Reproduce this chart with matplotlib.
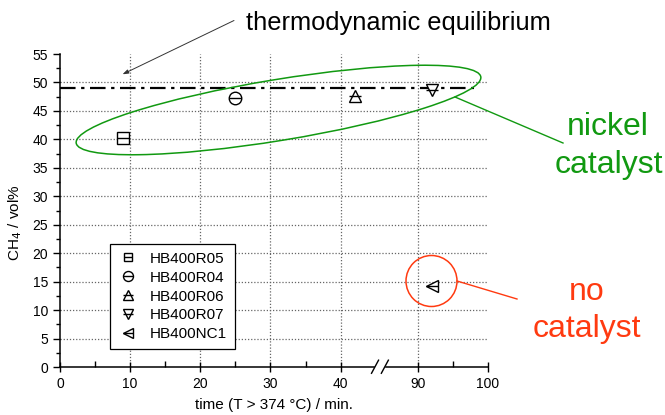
import numpy as np
import matplotlib.pyplot as plt
from matplotlib.patches import Ellipse, Circle, Rectangle
from matplotlib import rcParams

rcParams['font.family'] = 'sans-serif'
rcParams['font.sans-serif'] = ['Liberation Sans', 'DejaVu Sans']

#####################################

runs = ["HB400R05", "HB400R04", "HB400R06", "HB400R07", "HB400NC1"]
times = [9, 25, 42, 92, 92]
ch4 = [40.3, 47.2, 47.6, 48.6, 14.3]
markers = ["s", "o", "^", "v", "<"]

equilibrium = 49.1

xticks = [0, 10, 20, 30, 40, 90, 100]
xminor = [5, 15, 25, 35, 95]
yticks = list(range(0, 56, 5))

cGREEN = "#119911"
cRED = "#ff3a10"

####################################

def pos(x):
    # broken axis: 45..84 removed
    x = np.asarray(x, dtype=float)
    return np.where(x <= 45, x, x - 39)

fig = plt.figure(figsize=(6.65, 4.15), dpi=100)
ax = fig.add_axes([60 / 665, 48 / 415, 428 / 665, 313 / 415])

ax.set_xlim(0, pos(100))
ax.set_ylim(0, 55)

for y in yticks[1:-1]:
    ax.axhline(y, color="#666666", ls=(0, (1, 1.5)), lw=0.9, zorder=1)
for x in xticks[1:-1]:
    ax.axvline(pos(x), color="#666666", ls=(0, (1, 1.5)), lw=0.9, zorder=1)

ax.plot([0, pos(98)], [equilibrium, equilibrium], color="black", lw=1.6,
        ls=(0, (7, 2.5, 1.5, 2.5)), zorder=2)

handles = []
for t, c, m, lab in zip(times, ch4, markers, runs):
    ms = 8 if m == "s" else 9
    h1, = ax.plot(pos(t), c, ls="none", marker=m, ms=ms, mfc="white",
                  mec="black", mew=1.0, zorder=4)
    h2, = ax.plot(pos(t), c, ls="none", marker="_", ms=ms, mec="black",
                  mew=1.0, zorder=5)
    handles.append((h1, h2))

ax.set_xticks(pos(xticks))
ax.set_xticklabels([str(x) for x in xticks])
ax.set_xticks(pos(xminor), minor=True)
ax.set_yticks(yticks)
ax.set_yticks(np.arange(2.5, 55, 5), minor=True)

ax.tick_params(axis="x", which="major", direction="inout", length=7, width=1, labelsize=10)
ax.tick_params(axis="x", which="minor", direction="in", length=4, width=1)
ax.tick_params(axis="y", which="major", direction="out", length=5, width=1, labelsize=10)
ax.tick_params(axis="y", which="minor", direction="out", length=3, width=1)

for s in ["top", "right"]:
    ax.spines[s].set_visible(False)
for s in ["left", "bottom"]:
    ax.spines[s].set_linewidth(1.1)

ax.set_xlabel("time (T > 374 °C) / min.", fontsize=11)
ax.xaxis.set_label_coords(0.5, -0.1)
ax.set_ylabel("CH$_4$ / vol%", fontsize=11)
ax.yaxis.set_label_coords(-0.085, 0.46)

# axis break marks
ax.add_patch(Rectangle((44.9, -0.6), 1.3, 1.2, color="white", clip_on=False, zorder=6))
ax.plot([44.4, 45.4], [-1.1, 1.2], color="black", lw=1, clip_on=False, zorder=7)
ax.plot([45.8, 46.8], [-1.1, 1.2], color="black", lw=1, clip_on=False, zorder=7)

leg = ax.legend(handles, runs, loc="lower left", bbox_to_anchor=(0.117, 0.0575),
                borderaxespad=0, fontsize=11, fancybox=False, framealpha=1,
                edgecolor="black", labelspacing=0.32, handletextpad=0.7,
                borderpad=0.5, handlelength=1.4, markerscale=0.8)
leg.get_frame().set_linewidth(0.9)

# annotations (figure pixel positions -> inches)
tr = fig.dpi_scale_trans
H = 4.15
fig.text(2.455, H - 0.30, "thermodynamic equilibrium", fontsize=18.3,
         va="baseline", ha="left", transform=tr)
ax.annotate("", xy=(1.20, H - 0.755), xycoords=tr, xytext=(2.365, H - 0.193),
            textcoords=tr, arrowprops=dict(arrowstyle="-|>,head_length=0.35,head_width=0.12",
                                           color="#333333", lw=0.7))

fig.patches.append(Ellipse((2.785, H - 1.10), 4.10, 0.61, angle=9.3, fill=False,
                           ec=cGREEN, lw=1.1, transform=tr))
fig.lines.append(plt.Line2D([4.55, 5.63], [H - 0.97, H - 1.43], color=cGREEN,
                            lw=1.0, transform=tr))
fig.text(6.08, H - 1.35, "nickel", fontsize=23, color=cGREEN, ha="center",
         va="baseline", transform=tr)
fig.text(6.085, H - 1.73, "catalyst", fontsize=23, color=cGREEN, ha="center",
         va="baseline", transform=tr)

fig.patches.append(Circle((4.315, H - 2.81), 0.255, fill=False, ec=cRED, lw=1.1,
                          transform=tr))
fig.lines.append(plt.Line2D([4.57, 5.17], [H - 2.81, H - 2.99], color=cRED,
                            lw=1.0, transform=tr))
fig.text(5.87, H - 3.00, "no", fontsize=23, color=cRED, ha="center",
         va="baseline", transform=tr)
fig.text(5.865, H - 3.37, "catalyst", fontsize=23, color=cRED, ha="center",
         va="baseline", transform=tr)

fig.savefig("out.png", dpi=100)
